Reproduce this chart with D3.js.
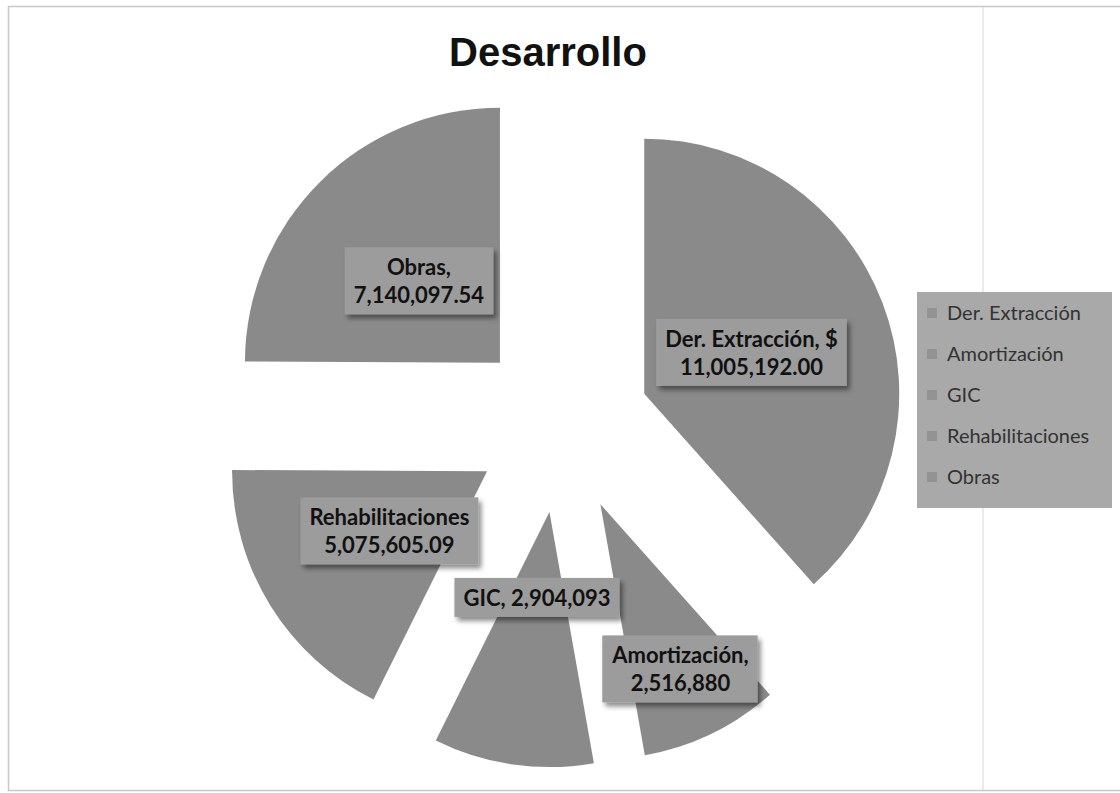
<!DOCTYPE html>
<html>
<head>
<meta charset="utf-8">
<script src="https://cdn.jsdelivr.net/npm/d3@7"></script>
<style>
  html, body { margin: 0; padding: 0; background: #fff; }
  svg { display: block; }
</style>
</head>
<body>
<svg id="chart" width="1120" height="793"></svg>
<script>
// Cost breakdown for "Desarrollo"
const categories = ["Der. Extracción", "Amortización", "GIC", "Rehabilitaciones", "Obras"];
const values = [11005192.00, 2516880, 2904093, 5075605.09, 7140097.54];
// Label text per slice: leading text, whether the value goes on its own line, decimals shown
const labelPrefixes = ["Der. Extracción, $", "Amortización,", "GIC,", "Rehabilitaciones", "Obras,"];
const labelSplit = [true, true, false, true, true];
const labelDecimals = [2, 0, 0, 2, 2];
const title = "Desarrollo";

const svg = d3.select("#chart");

// page frame
svg.append("rect").attr("x", 8.5).attr("y", 6.5).attr("width", 1140).attr("height", 784)
  .attr("fill", "#fff").attr("stroke", "#c8c8c8").attr("stroke-width", 1.5);
svg.append("line").attr("x1", 983).attr("x2", 983).attr("y1", 7).attr("y2", 790)
  .attr("stroke", "#dcdcdc").attr("stroke-width", 1.2);

// title
svg.append("text").attr("x", 548).attr("y", 66).attr("text-anchor", "middle")
  .attr("font-family", "Liberation Sans, Arial, sans-serif").attr("font-weight", "bold")
  .attr("font-size", 40).attr("fill", "#111").text(title);

const defs = svg.append("defs");
const sh = defs.append("filter").attr("id", "shadow").attr("x", "-10%").attr("y", "-20%")
  .attr("width", "130%").attr("height", "160%");
sh.append("feDropShadow").attr("dx", 3).attr("dy", 4).attr("stdDeviation", 2.5)
  .attr("flood-color", "#000").attr("flood-opacity", 0.45);

// pie layout
const cx = 562, cy = 425, R = 255, explode = 88;
const sliceFill = "#8a8a8a";
// how far along each slice's bisector its label box sits (fraction of radius)
const labelRadius = [0.45, 0.72, 0.34, 0.45, 0.45];

const pie = d3.pie().sort(null).value(d => d.value).startAngle(0).endAngle(2 * Math.PI);
const data = categories.map((c, i) => ({ name: c, value: values[i], i }));
const arcs = pie(data);
const arc = d3.arc().innerRadius(0).outerRadius(R);

const g = svg.append("g").attr("transform", `translate(${cx},${cy})`);

function offset(a, dist) {
  const m = (a.startAngle + a.endAngle) / 2;
  return [Math.sin(m) * dist, -Math.cos(m) * dist];
}

g.selectAll("path.slice").data(arcs).enter().append("path")
  .attr("class", "slice")
  .attr("d", arc)
  .attr("transform", d => `translate(${offset(d, explode)})`)
  .attr("fill", sliceFill);

// data labels: boxed, inside each exploded slice
const labelFont = "Lato, 'Open Sans', sans-serif";
const lab = g.selectAll("g.lab").data(arcs).enter().append("g").attr("class", "lab")
  .attr("transform", d => `translate(${offset(d, explode + R * labelRadius[d.data.i])})`);

lab.each(function (d) {
  const i = d.data.i;
  const fmt = d3.format(labelDecimals[i] ? ",.2f" : ",");
  const lines = labelSplit[i]
    ? [labelPrefixes[i], fmt(d.data.value)]
    : [labelPrefixes[i] + " " + fmt(d.data.value)];
  const el = d3.select(this);
  const box = el.append("rect").attr("fill", "#9c9c9c").attr("filter", "url(#shadow)");
  const lh = 28;
  const t = el.append("text").attr("text-anchor", "middle")
    .attr("font-family", labelFont).attr("font-weight", "bold")
    .attr("font-size", 22).attr("fill", "#111");
  lines.forEach((s, k) => {
    t.append("tspan").attr("x", 0)
      .attr("y", (k - (lines.length - 1) / 2) * lh + 8).text(s);
  });
  const bb = t.node().getBBox();
  box.attr("x", bb.x - 9).attr("y", bb.y - 6)
    .attr("width", bb.width + 18).attr("height", bb.height + 12);
});

// legend
const lg = svg.append("g").attr("transform", "translate(917,292)");
lg.append("rect").attr("width", 195).attr("height", 216).attr("fill", "#a9a9a9");
const rowY = d3.scalePoint().domain(categories).range([21, 185]);
const items = lg.selectAll("g.item").data(categories).enter().append("g")
  .attr("transform", d => `translate(0,${rowY(d)})`);
items.append("rect").attr("x", 10).attr("y", -5).attr("width", 10).attr("height", 10)
  .attr("fill", "#939393");
items.append("text").attr("x", 30).attr("y", 7)
  .attr("font-family", labelFont).attr("font-size", 20).attr("fill", "#333")
  .text(d => d);
</script>
</body>
</html>
